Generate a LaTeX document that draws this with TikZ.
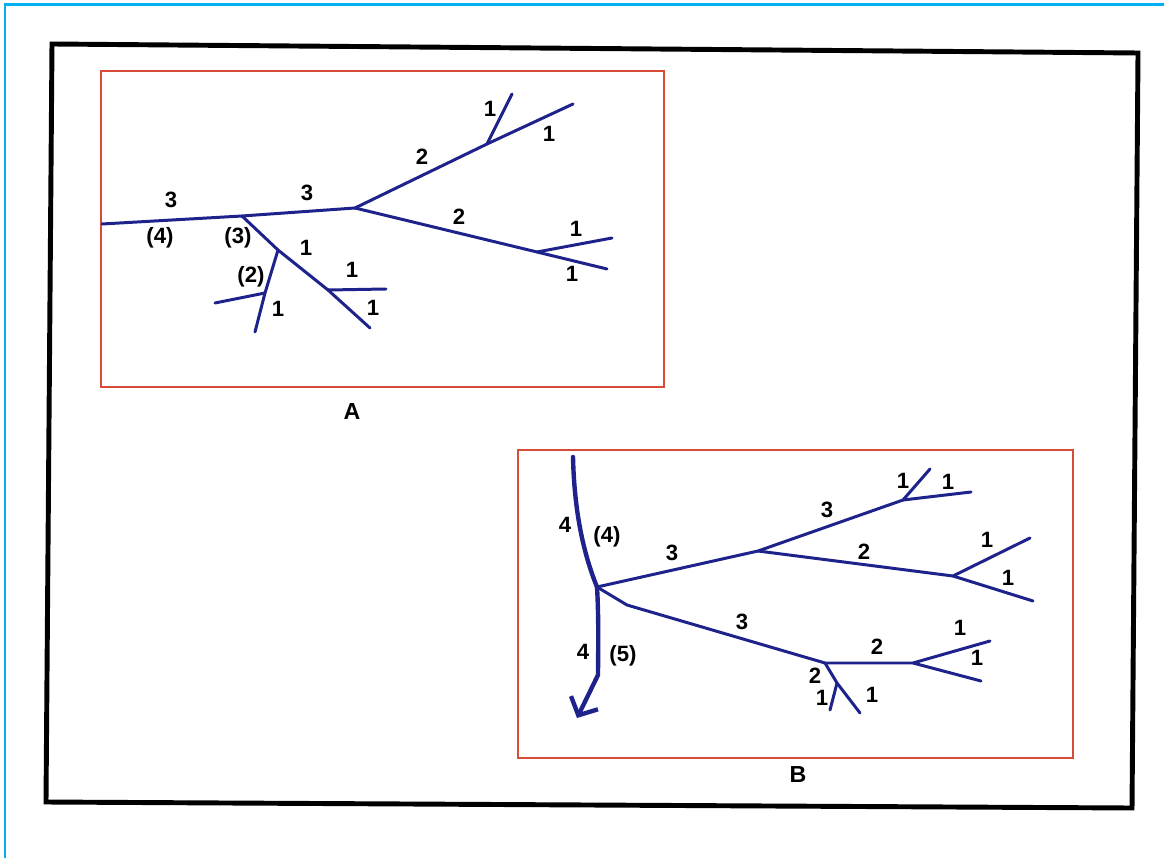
\documentclass[tikz,border=0pt]{standalone}
\usepackage{fontspec}
\setmainfont{Liberation Sans}
\usepackage{xcolor}
\usetikzlibrary{arrows.meta,calc}

\definecolor{river}{RGB}{30,35,140}
\definecolor{boxred}{RGB}{215,75,55}
\definecolor{edgecyan}{RGB}{0,176,240}

\begin{document}
\begin{tikzpicture}[
    x=0.01cm, y=-0.01cm,
    frame/.style={draw=black, line width=1.4pt, line join=miter},
    panel/.style={draw=boxred, line width=0.6pt},
    edgeline/.style={draw=edgecyan, line width=0.85pt},
    stream/.style={draw=river, line width=0.85pt, line cap=round, line join=round},
    trunk/.style={draw=river, line width=1.25pt, line cap=round, line join=round},
    lbl/.style={inner sep=0pt, font=\fontsize{6.3}{7}\selectfont\bfseries},
    title/.style={inner sep=0pt, font=\fontsize{6.6}{7.5}\selectfont\bfseries}
]
    \useasboundingbox (0,0) rectangle (1164,858);
    \draw [edgeline] (5,858) -- (5,5) -- (1164,5);
    \draw [frame] (52,44) -- (1138,53) -- (1132,808) -- (46,802) -- cycle;

    % panel A
    \node [panel, minimum width=5.63cm, minimum height=3.16cm, anchor=north west, inner sep=0pt] (boxA) at (100,70) {};
    \node [title] (titleA) at (352,412) {A};

    \coordinate (a0) at (102,224);
    \coordinate (a1) at (242,216);
    \coordinate (a2) at (355,208);
    \coordinate (a3) at (487,144);
    \coordinate (a4) at (573,104);
    \coordinate (a5) at (512,94);
    \coordinate (a6) at (537,252);
    \coordinate (a7) at (607,269);
    \coordinate (a8) at (612,238);
    \coordinate (a9) at (278,250);
    \coordinate (a10) at (328,290);
    \coordinate (a11) at (370,328);
    \coordinate (a12) at (386,289);
    \coordinate (a13) at (265,293);
    \coordinate (a14) at (255,332);
    \coordinate (a15) at (215,303);

    \draw [stream] (a0) -- (a1) -- (a2);
    \draw [stream] (a2) -- (a3) -- (a4);
    \draw [stream] (a3) -- (a5);
    \draw [stream] (a2) -- (a6) -- (a7);
    \draw [stream] (a6) -- (a8);
    \draw [stream] (a1) -- (a9) -- (a10) -- (a11);
    \draw [stream] (a10) -- (a12);
    \draw [stream] (a9) -- (a13) -- (a14);
    \draw [stream] (a13) -- (a15);

    \node [lbl] (la1) at (171,200) {3};
    \node [lbl] (la2) at (160,238) {(4)};
    \node [lbl] (la3) at (238,238) {(3)};
    \node [lbl] (la4) at (307,193) {3};
    \node [lbl] (la5) at (306,248) {1};
    \node [lbl] (la6) at (251,277) {(2)};
    \node [lbl] (la7) at (278,309) {1};
    \node [lbl] (la8) at (352,270) {1};
    \node [lbl] (la9) at (373,308) {1};
    \node [lbl] (la10) at (422,157) {2};
    \node [lbl] (la11) at (490,109) {1};
    \node [lbl] (la12) at (549,134) {1};
    \node [lbl] (la13) at (459,217) {2};
    \node [lbl] (la14) at (576,229) {1};
    \node [lbl] (la15) at (572,274) {1};

    % panel B
    \node [panel, minimum width=5.55cm, minimum height=3.08cm, anchor=north west, inner sep=0pt] (boxB) at (517,449) {};
    \node [title] (titleB) at (798,775) {B};

    \coordinate (b0) at (573,457);
    \coordinate (b1) at (597,587);
    \coordinate (b2) at (577,718);
    \coordinate (b3) at (758,551);
    \coordinate (b4) at (903,500);
    \coordinate (b5) at (930,469);
    \coordinate (b6) at (971,492);
    \coordinate (b7) at (953,576);
    \coordinate (b8) at (1030,538);
    \coordinate (b9) at (1033,601);
    \coordinate (b10) at (627,605);
    \coordinate (b11) at (825,663);
    \coordinate (b12) at (913,663);
    \coordinate (b13) at (990,641);
    \coordinate (b14) at (981,681);
    \coordinate (b15) at (837,683);
    \coordinate (b16) at (860,713);
    \coordinate (b17) at (830,710);

    \draw [trunk] (b0) .. controls (574,500) and (580,545) .. (b1);
    \draw [trunk, -{Straight Barb[length=1.4mm, width=3mm]}] (b1) .. controls (599,620) and (598,660) .. (598,675) -- (b2);
    \draw [stream] (b1) -- (b3) -- (b4) -- (b5);
    \draw [stream] (b4) -- (b6);
    \draw [stream] (b3) -- (b7) -- (b8);
    \draw [stream] (b7) -- (b9);
    \draw [stream] (b1) -- (b10) -- (b11) -- (b12) -- (b13);
    \draw [stream] (b12) -- (b14);
    \draw [stream] (b11) -- (b15) -- (b16);
    \draw [stream] (b15) -- (b17);

    \node [lbl] (lb1) at (565,525) {4};
    \node [lbl] (lb2) at (607,537) {(4)};
    \node [lbl] (lb3) at (672,553) {3};
    \node [lbl] (lb4) at (742,622) {3};
    \node [lbl] (lb5) at (583,652) {4};
    \node [lbl] (lb6) at (623,656) {(5)};
    \node [lbl] (lb7) at (827,510) {3};
    \node [lbl] (lb8) at (903,481) {1};
    \node [lbl] (lb9) at (948,482) {1};
    \node [lbl] (lb10) at (864,552) {2};
    \node [lbl] (lb11) at (987,540) {1};
    \node [lbl] (lb12) at (1008,578) {1};
    \node [lbl] (lb13) at (877,647) {2};
    \node [lbl] (lb14) at (960,628) {1};
    \node [lbl] (lb15) at (977,658) {1};
    \node [lbl] (lb16) at (815,676) {2};
    \node [lbl] (lb17) at (822,698) {1};
    \node [lbl] (lb18) at (872,695) {1};
\end{tikzpicture}
\end{document}
